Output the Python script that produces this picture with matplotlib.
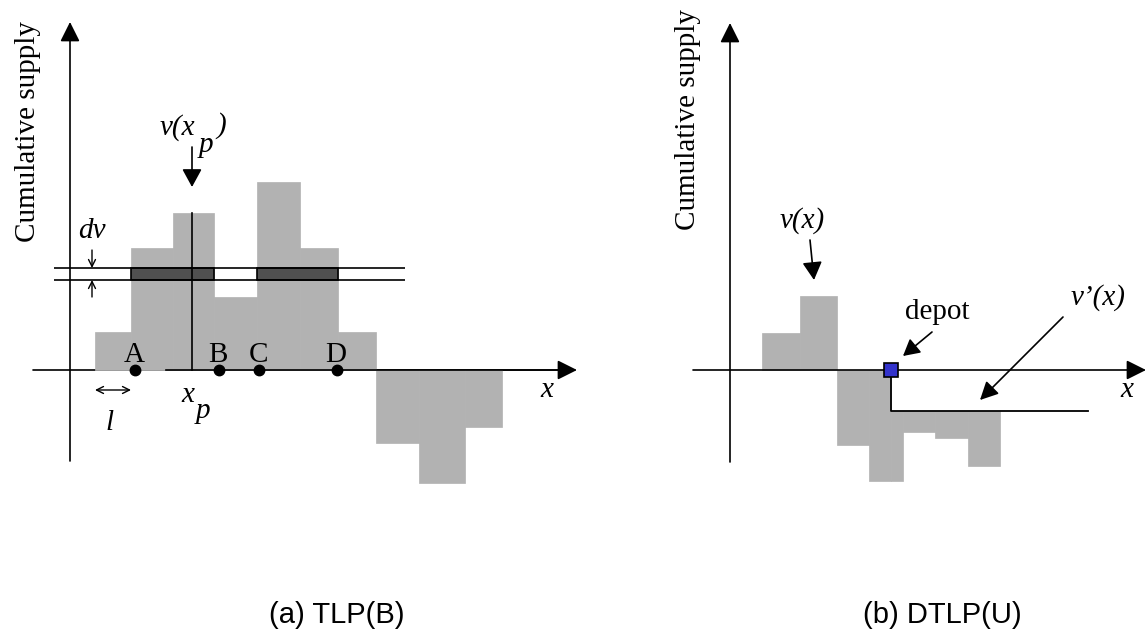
import matplotlib
matplotlib.use("Agg")
import matplotlib.pyplot as plt

GRAY = "#b2b2b2"
DARK = "#505050"
DEPOT_BLUE = "#3333cc"
SERIF = "Liberation Serif"
SANS = "Liberation Sans"
FS = 21

# panel (a): cumulative supply v(x) as a step function, origin at the axis crossing
A_EDGES = [25, 61, 103, 144, 187, 230, 268, 306, 349, 395, 432]
A_VALUES = [38, 122, 157, 73, 188, 122, 38, -73, -113, -57]
A_BAND = [90, 102]          # v and v + dv
A_BAND_X = [-16, 335]
A_XP = 122
A_POINTS = [65, 149, 189, 267]
A_POINT_NAMES = ["A", "B", "C", "D"]

# panel (b): v(x) with the depot, and the shifted v'(x)
B_EDGES = [32, 70, 107, 139, 173, 205, 238, 270]
B_VALUES = [37, 74, -75, -111, -62, -68, -96]
B_DEPOT = 161
B_VPRIME = -41
B_VPRIME_END = 358

XLIM_A = (-70, 503.5)
XLIM_B = (-156.5, 417)
YLIM = (-263, 370)


def arrow(ax, start, end, style="-|>", head=(1.2, 0.6), lw=1.2, z=5):
    ax.annotate("", xy=end, xytext=start, annotation_clip=False, zorder=z,
                arrowprops=dict(arrowstyle=f"{style},head_length={head[0]},head_width={head[1]}",
                                color="black", lw=lw, shrinkA=0, shrinkB=0,
                                mutation_scale=10))


def label(ax, x, y, s, italic=True, ha="center", va="baseline"):
    ax.text(x, y, s, fontsize=FS, family=SERIF, style="italic" if italic else "normal",
            ha=ha, va=va, zorder=7)


fig = plt.figure(figsize=(11.47, 6.33), dpi=100)
ax_a = fig.add_axes([0, 0, 0.5, 1])
ax_b = fig.add_axes([0.5, 0, 0.5, 1])
for ax, xl in ((ax_a, XLIM_A), (ax_b, XLIM_B)):
    ax.set_xlim(*xl)
    ax.set_ylim(*YLIM)
    ax.set_axis_off()

# ---------------- (a) TLP(B) ----------------
ax = ax_a
lefts = A_EDGES[:-1]
widths = [r - l for l, r in zip(A_EDGES[:-1], A_EDGES[1:])]
ax.bar(lefts, A_VALUES, widths, align="edge", color=GRAY, edgecolor=GRAY, lw=0.5, zorder=1)

# axes (x axis partly hidden under the first step)
arrow(ax, (0, -91), (0, 348), z=2)
arrow(ax, (-37, 0), (507, 0), z=0.5)
ax.plot([96, 500], [0, 0], color="black", lw=1.2, zorder=3)

# band [v, v + dv] and the intervals where v(x) reaches it
ax.hlines(A_BAND, A_BAND_X[0], A_BAND_X[1], color="black", lw=1.2, zorder=4)
blocks = []
for l, w, v in zip(lefts, widths, A_VALUES):
    if v >= A_BAND[1]:
        if blocks and abs(blocks[-1][1] - l) < 1e-9:
            blocks[-1][1] = l + w
        else:
            blocks.append([l, l + w])
for l, r in blocks:
    ax.bar(l, A_BAND[1] - A_BAND[0], r - l, bottom=A_BAND[0], align="edge",
           color=DARK, edgecolor="black", lw=1.2, zorder=3)

# x_p and v(x_p)
xp_val = next(v for l, w, v in zip(lefts, widths, A_VALUES) if l <= A_XP < l + w)
ax.plot([A_XP, A_XP], [0, xp_val], color="black", lw=1.2, zorder=4)
arrow(ax, (A_XP, 223), (A_XP, 183), head=(1.1, 0.6))
label(ax, 90, 235, "v(x", ha="left")
label(ax, 151, 237, ")")
label(ax, 136, 218, "p")

# points A..D
ax.plot(A_POINTS, [0] * len(A_POINTS), "o", color="black", ms=7.5, zorder=6)
for px, name in zip(A_POINTS, A_POINT_NAMES):
    label(ax, px - 1, 8, name, italic=False)

# dv arrows
label(ax, 22, 132, "dv")
arrow(ax, (22, 120), (22, A_BAND[1]), style="->", head=(0.5, 0.25), lw=1.0)
arrow(ax, (22, 73), (22, A_BAND[0]), style="->", head=(0.5, 0.25), lw=1.0)

# step length l
arrow(ax, (A_EDGES[0], -20), (A_EDGES[1], -20), style="<->", head=(0.5, 0.25), lw=1.0)
label(ax, 40, -60, "l")
label(ax, 118, -32, "x")
label(ax, 133, -48, "p")
label(ax, 477, -27, "x")
ax.text(-42, 239, "Cumulative supply", rotation=90, fontsize=FS, family=SERIF,
        ha="center", va="center")

# ---------------- (b) DTLP(U) ----------------
ax = ax_b
for l, r, v in zip(B_EDGES[:-1], B_EDGES[1:], B_VALUES):
    pieces = [(l, r, 0)]
    if v < 0 and r > B_DEPOT:
        pieces = [(l, B_DEPOT, 0), (B_DEPOT, r, B_VPRIME)] if l < B_DEPOT else [(l, r, B_VPRIME)]
    for pl, pr, bottom in pieces:
        ax.bar(pl, v - bottom, pr - pl, bottom=bottom, align="edge",
               color=GRAY, edgecolor=GRAY, lw=0.5, zorder=1)

arrow(ax, (0, -92), (0, 347), z=2)
arrow(ax, (-37, 0), (416, 0), z=3)

# v'(x)
ax.plot([B_DEPOT, B_DEPOT, B_VPRIME_END], [0, B_VPRIME, B_VPRIME],
        color="black", lw=1.3, zorder=4)
ax.plot(B_DEPOT, 0, "s", ms=9.5, mfc=DEPOT_BLUE, mec="black", mew=1.2, zorder=6)

label(ax, 72, 142, "v(x)")
arrow(ax, (80, 130), (84, 90), head=(1.1, 0.6))
label(ax, 207, 51, "depot", italic=False)
arrow(ax, (202, 38), (173, 14), head=(1.0, 0.55))
label(ax, 368, 65, "v\u2019(x)")
arrow(ax, (333, 53), (250, -30), head=(1.1, 0.55))
label(ax, 397, -27, "x")
ax.text(-42, 251, "Cumulative supply", rotation=90, fontsize=FS, family=SERIF,
        ha="center", va="center")

# captions
fig.text(337 / 1147, 1 - 615 / 633, "(a) TLP(B)", fontsize=21, family=SANS,
         ha="center", va="center")
fig.text(942 / 1147, 1 - 615 / 633, "(b) DTLP(U)", fontsize=21, family=SANS,
         ha="center", va="center")

fig.savefig("out.png", dpi=100)
